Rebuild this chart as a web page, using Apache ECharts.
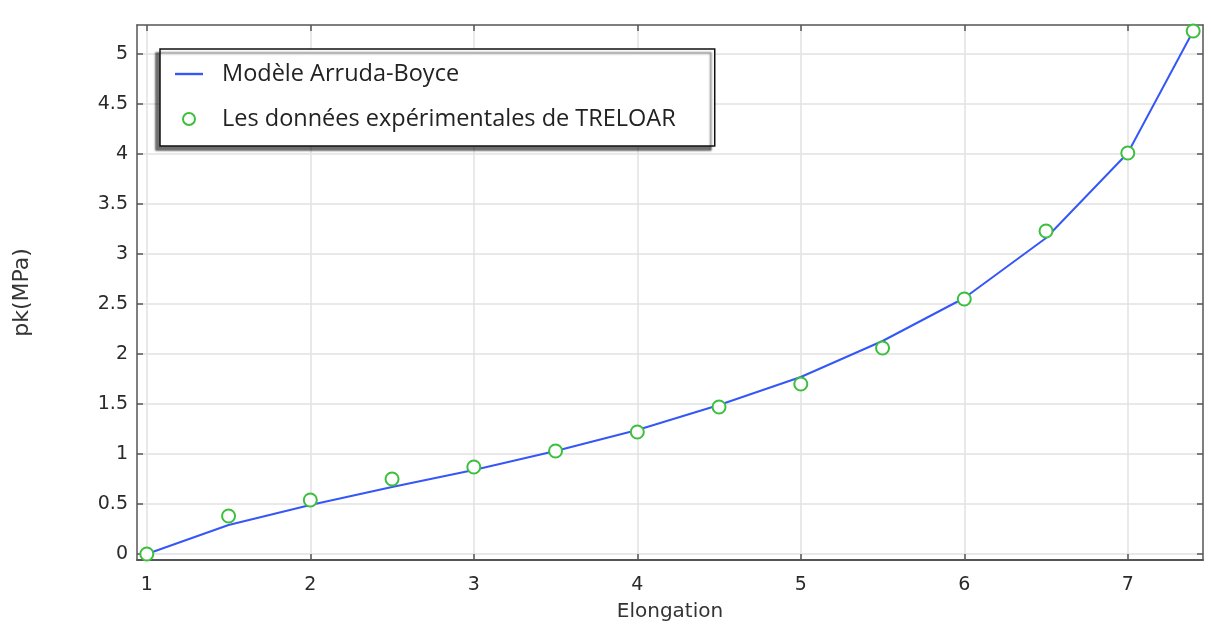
<!DOCTYPE html>
<html>
<head>
<meta charset="utf-8">
<script src="https://cdn.jsdelivr.net/npm/echarts@6/dist/echarts.min.js"></script>
<style>
html,body{margin:0;padding:0;background:#fff;}
#chart{width:1211px;height:626px;}
</style>
</head>
<body>
<div id="chart"></div>
<script>
const elongation = [1, 1.5, 2, 2.5, 3, 3.5, 4, 4.5, 5, 5.5, 6, 6.5, 7, 7.4];
const modelArrudaBoyce = [0, 0.29, 0.49, 0.67, 0.84, 1.03, 1.24, 1.49, 1.77, 2.13, 2.56, 3.16, 4.01, 5.23];
const treloarData = [0, 0.38, 0.54, 0.75, 0.87, 1.03, 1.22, 1.47, 1.70, 2.06, 2.55, 3.23, 4.01, 5.23];
const xTicks = [1, 2, 3, 4, 5, 6, 7];
const yTicks = [0, 0.5, 1, 1.5, 2, 2.5, 3, 3.5, 4, 4.5, 5];
const seriesNames = ['Modèle Arruda-Boyce', 'Les données expérimentales de TRELOAR'];

const FONT = 'DejaVu Sans';
const frameColor = '#555';
const lineColor = '#3557f7';
const dotColor = '#3cbf3c';

function pairs(xs, ys) { return xs.map((x, i) => [x, ys[i]]); }

const chart = echarts.init(document.getElementById('chart'));
chart.setOption({
  backgroundColor: '#fff',
  animation: false,
  grid: { left: 137, right: 8, top: 25, bottom: 66, containLabel: false, outerBoundsMode: 'none' },
  legend: {
    orient: 'vertical',
    left: 160, top: 49,
    data: [
      { name: seriesNames[0], icon: 'path://M0,0H28V2.4H0Z' },
      { name: seriesNames[1], icon: 'emptyCircle' }
    ],
    backgroundColor: '#fff',
    borderColor: '#111',
    borderWidth: 1.5,
    borderRadius: 0,
    padding: [11, 39, 13, 15],
    itemGap: 17,
    itemWidth: 28,
    itemHeight: 12,
    shadowColor: 'rgba(0,0,0,0.55)',
    shadowBlur: 2,
    shadowOffsetX: -4,
    shadowOffsetY: 4,
    textStyle: { fontFamily: 'Open Sans', fontSize: 23.5, color: '#222', lineHeight: 28, padding: [0, 0, 0, 14] }
  },
  xAxis: [
    {
      type: 'value', position: 'bottom', min: 0.94, max: 7.46,
      name: 'Elongation', nameLocation: 'middle', nameGap: 42,
      nameTextStyle: { fontFamily: FONT, fontSize: 20, color: '#333' },
      axisLine: { show: true, onZero: false, lineStyle: { color: frameColor, width: 2 } },
      axisTick: { show: true, inside: true, length: 6, customValues: xTicks, lineStyle: { color: frameColor, width: 1.5 } },
      axisLabel: { show: true, customValues: xTicks, margin: 16, fontFamily: FONT, fontSize: 19, color: '#2a2a2a' },
      splitLine: { show: true, lineStyle: { color: '#e2e2e2', width: 1.5 } }
    },
    {
      type: 'value', position: 'top', min: 0.94, max: 7.46,
      axisLine: { show: true, onZero: false, lineStyle: { color: frameColor, width: 1.5 } },
      axisTick: { show: true, inside: true, length: 6, customValues: xTicks, lineStyle: { color: frameColor, width: 1.5 } },
      axisLabel: { show: false },
      splitLine: { show: false }
    }
  ],
  yAxis: [
    {
      type: 'value', position: 'left', min: -0.06, max: 5.29,
      name: 'pk(MPa)', nameLocation: 'middle', nameGap: 104, nameRotate: 90,
      nameTextStyle: { fontFamily: FONT, fontSize: 22, color: '#333' },
      axisLine: { show: true, onZero: false, lineStyle: { color: frameColor, width: 1.5 } },
      axisTick: { show: true, inside: true, length: 6, customValues: yTicks, lineStyle: { color: frameColor, width: 1.5 } },
      axisLabel: { show: true, customValues: yTicks, margin: 9, fontFamily: FONT, fontSize: 19, color: '#2a2a2a' },
      splitLine: { show: true, lineStyle: { color: '#e2e2e2', width: 1.5 } }
    },
    {
      type: 'value', position: 'right', min: -0.06, max: 5.29,
      axisLine: { show: true, onZero: false, lineStyle: { color: frameColor, width: 1.5 } },
      axisTick: { show: true, inside: true, length: 6, customValues: yTicks, lineStyle: { color: frameColor, width: 1.5 } },
      axisLabel: { show: false },
      splitLine: { show: false }
    }
  ],
  series: [
    {
      name: seriesNames[0], type: 'line', xAxisIndex: 0, yAxisIndex: 0,
      data: pairs(elongation, modelArrudaBoyce),
      symbol: 'none', smooth: false,
      lineStyle: { color: lineColor, width: 2 },
      itemStyle: { color: lineColor },
      z: 3
    },
    {
      name: seriesNames[1], type: 'scatter', xAxisIndex: 0, yAxisIndex: 0,
      data: pairs(elongation, treloarData),
      symbol: 'emptyCircle', symbolSize: 13,
      itemStyle: { color: dotColor, borderWidth: 2.5, opacity: 1 },
      z: 4
    }
  ]
});
</script>
</body>
</html>
